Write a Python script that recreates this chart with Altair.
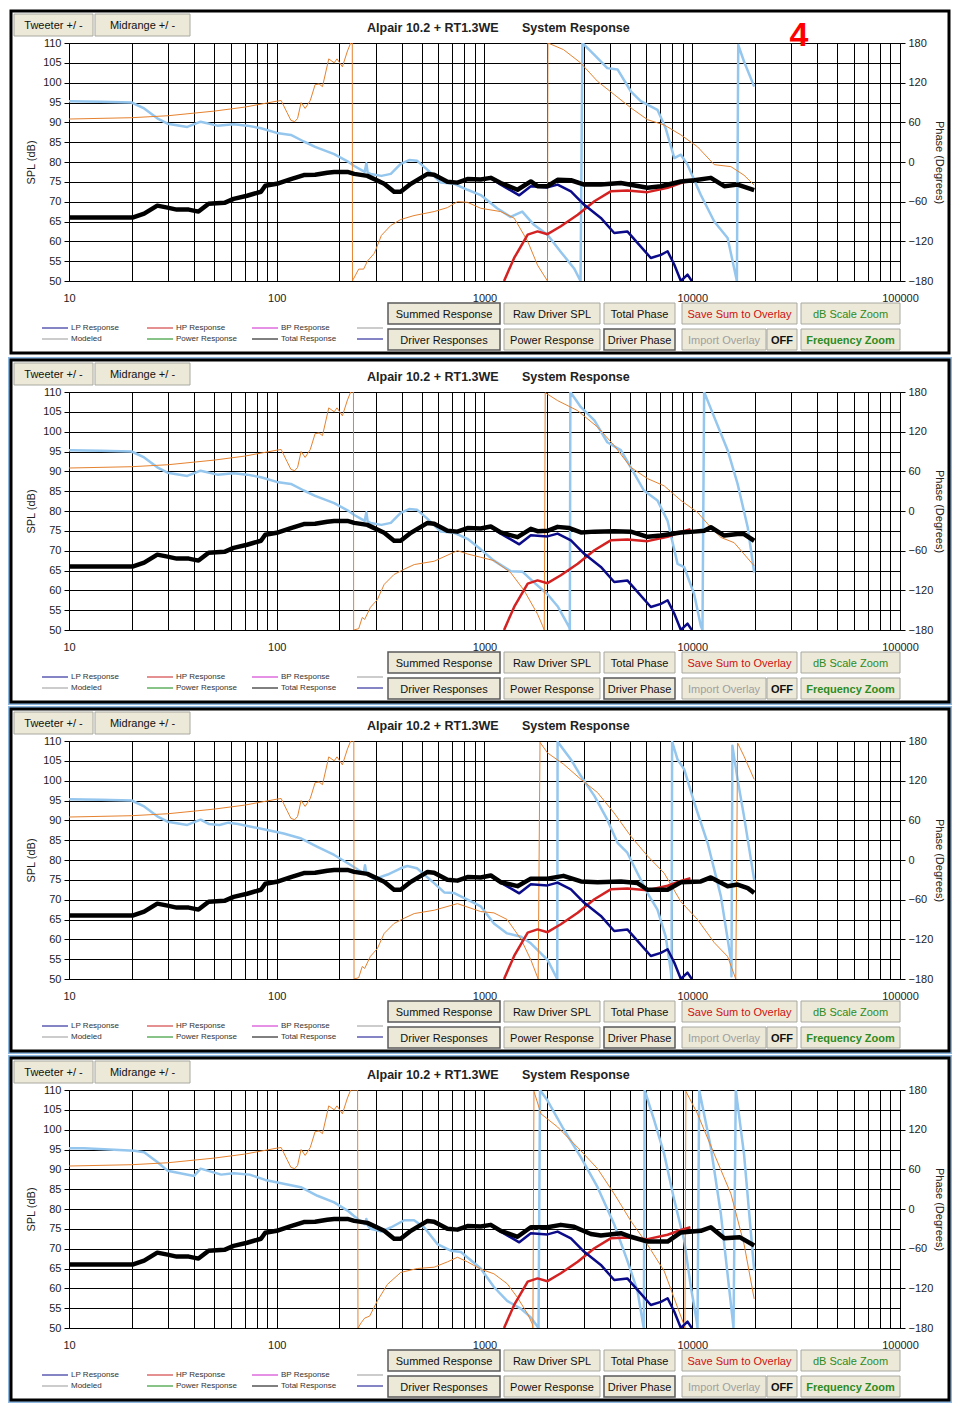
import altair as alt
import pandas as pd

# ---------------- data: (frequency in Hz, value) ----------------
# Total response (dB), shared low-frequency part
TOTAL_LOW = [(10, 66), (13.2, 66), (20.2, 66), (23, 67), (26.6, 69), (29.8, 68.5), (33, 68), (37.7, 68),
             (42, 67.5), (47, 69.5), (56, 69.7), (62, 70.7), (72, 71.5), (84, 72.5), (88, 74), (100, 74.5),
             (117, 75.7), (135, 76.7), (153, 76.8), (175, 77.3), (189, 77.5), (219, 77.5), (236, 77),
             (273, 76.5), (329, 74.5), (367, 72.5), (395, 72.5), (442, 74.5), (532, 77), (572, 76.8),
             (663, 75), (741, 74.8), (828, 75.7), (959, 75.6)]
TOTAL_HIGH_P1 = [(1072, 76), (1197, 74.7), (1442, 73), (1671, 75.1), (1800, 73.9), (2010, 73.9), (2248, 75.5),
                 (2606, 75.4), (3020, 74.3), (3632, 74.3), (4531, 74.7), (6092, 73.5), (7063, 73.9),
                 (8813, 75.1), (10218, 75.4), (12290, 76), (14260, 73.9), (16530, 74.3), (19870, 72.9)]
TOTAL_HIGH_P2 = [(1072, 76.1), (1197, 74.6), (1442, 73.4), (1671, 75.5), (1800, 74.9), (2010, 75), (2248, 76),
                 (2560, 75.7), (2912, 74.6), (3380, 74.8), (4210, 74.9), (5060, 74.8), (6092, 73.5),
                 (7063, 73.8), (8813, 74.6), (10218, 74.8), (11410, 75), (12290, 75.9), (14260, 73.8),
                 (16530, 74.2), (17750, 74.2), (19870, 72.5)]
TOTAL_HIGH_P3 = [(1072, 76.1), (1197, 74.4), (1442, 73.4), (1671, 75.3), (2010, 75.3), (2400, 76), (2912, 74.6),
                 (3500, 74.4), (4531, 74.6), (5450, 74.2), (6092, 72.5), (7610, 72.5), (8813, 74.4),
                 (11000, 74.6), (12290, 75.6), (14800, 73.4), (16530, 73.8), (18500, 72.9), (19870, 71.7)]
TOTAL_HIGH_P4 = [(1072, 76), (1197, 74.5), (1442, 73), (1671, 75.4), (2010, 75.4), (2330, 76), (2700, 75.5),
                 (3250, 73.7), (3632, 73.3), (4531, 73.9), (5060, 73), (6092, 71.8), (7610, 71.8),
                 (8813, 74.1), (11000, 74.5), (12290, 75.4), (14260, 72.6), (16900, 72.9), (19870, 70.8)]

# LP (woofer) and HP (tweeter) responses (dB)
LP_RESP = [(741, 74.8), (828, 75.7), (959, 75.6), (1072, 76), (1197, 74.3), (1470, 71.6), (1671, 73.9),
           (2010, 73.6), (2248, 74.3), (2606, 72.6), (3020, 69.2), (3632, 65.9), (4210, 62.1), (4870, 62.5),
           (5450, 59.6), (6320, 55.8), (7063, 56.6), (7610, 57.5), (8200, 54.1), (8813, 50), (9490, 51.6),
           (9950, 50)]
HP_RESP = [(1242, 50), (1389, 55.8), (1614, 61.7), (1800, 62.5), (2010, 61.8), (2330, 63.8), (2810, 66.7),
           (3380, 70.1), (4050, 72.6), (4870, 72.8), (6092, 72.4), (7610, 73.5), (8813, 74.7), (9800, 75.4)]

# Orange phase (degrees)
ORANGE_LOW = [(10, 65), (20, 67), (30, 70), (50, 77), (70, 83), (100, 92), (105, 93), (112, 75), (117, 63),
              (122, 61), (126, 66), (131, 90), (137, 81), (145, 93), (153, 117), (160, 118), (166, 114),
              (178, 156), (189, 150), (195, 156), (207, 144), (219, 168), (227, 180)]
ORANGE_P1 = [(231, 180), (231.5, -180), (233, -178), (248, -162), (262, -162), (273, -150), (295, -138),
             (319, -111), (354, -96), (395, -87), (458, -81), (572, -75), (663, -69), (741, -60), (828, -61),
             (959, -70), (1197, -75), (1390, -85), (1614, -120), (1800, -156), (2010, -180), (2020, 180),
             (2400, 170), (2900, 150), (3500, 122), (4210, 102), (5060, 82), (6092, 64), (7330, 56),
             (8813, 41), (10600, 23), (12760, -4), (15350, -7), (17750, -20), (19870, -35)]
ORANGE_P2 = [(234, 180), (234.5, -180), (248, -178), (258, -161), (265, -164), (282, -146), (305, -134),
             (329, -111), (367, -96), (411, -88), (459, -81), (572, -76), (741, -60), (828, -65), (959, -70),
             (1110, -75), (1335, -93), (1550, -120), (1800, -156), (1900, -173), (1940, -180), (1960, 179),
             (2248, 167), (2800, 152), (3500, 127), (4210, 99), (5060, 66), (6092, 49), (7330, 38),
             (8813, 16), (10600, -2), (12290, -25), (13740, -40), (15920, -48), (19870, -83)]
ORANGE_P3 = [(235, 180), (235.5, -180), (248, -178), (258, -161), (265, -164), (282, -146), (305, -134),
             (329, -111), (367, -96), (411, -88), (459, -81), (572, -76), (741, -66), (959, -78),
             (1110, -80), (1285, -90), (1500, -120), (1671, -151), (1813, -180), (1850, 178), (2010, 162),
             (2400, 145), (2912, 122), (3500, 102), (4210, 71), (5060, 36), (6092, 6), (7330, -20),
             (8813, -63), (10600, -90), (12760, -125), (14800, -146), (16200, -180), (16530, 177),
             (17750, 157), (19870, 122)]
ORANGE_P4 = [(245, 180), (246, -180), (255, -172), (265, -165), (280, -162), (305, -139), (341, -114),
             (395, -96), (475, -90), (572, -88), (663, -80), (741, -73), (828, -80), (959, -91), (1110, -98),
             (1285, -113), (1442, -134), (1614, -159), (1700, -174), (1710, -180), (1730, 178), (1870, 144),
             (2248, 124), (2912, 88), (3500, 61), (4210, 23), (5060, -18), (6092, -54), (7330, -94),
             (8500, -149), (9150, -176), (9220, -180), (9320, 178), (10600, 144), (12760, 83), (15350, 23),
             (17750, -53), (19870, -136)]

# Light-blue phase (degrees)
BLUE_LOW_A = [(10, 92), (14.2, 91), (20, 90), (23, 81), (26.6, 66), (29.8, 58), (37.1, 53), (43, 61),
              (51.8, 55), (62, 57), (72, 55), (84, 51), (100, 44), (117, 41), (135, 31), (153, 23), (189, 12),
              (219, 1), (236, -6), (265, -15), (270, -2), (274, -16), (283, -18), (319, -21), (354, -18),
              (395, -3), (434, 3), (473, 2), (532, -12), (616, -31), (715, -33), (828, -42)]
BLUE_HIGH_P1 = [(959, -50), (1150, -70), (1335, -83), (1520, -75), (1730, -95), (2010, -110), (2330, -136),
                (2700, -161), (2900, -180), (2960, 180), (3380, 162), (3900, 142), (4370, 140), (5060, 107),
                (5650, 92), (6800, 79), (7450, 51), (8200, 6), (8813, 11), (9490, -4), (11000, -50),
                (12760, -90), (14800, -115), (16400, -180), (16650, 177), (17750, 152), (19870, 114)]
BLUE_HIGH_P2 = [(959, -58), (1110, -75), (1335, -91), (1527, -92), (1730, -108), (2010, -126), (2248, -144),
                (2560, -176), (2575, -180), (2590, 180), (2912, 157), (3380, 137), (3900, 104), (4531, 92),
                (5060, 66), (5850, 31), (6800, 16), (7610, -15), (8500, -80), (9150, -85), (10218, -126),
                (11000, -174), (11200, -180), (11410, 180), (12760, 142), (14800, 92), (16530, 41),
                (18500, -25), (19870, -93)]
BLUE_LOW_B = [(10, 92), (14.2, 91), (20, 90), (23, 81), (26.6, 66), (29.8, 58), (37.1, 53), (43, 61),
              (47, 54.5), (53, 53), (58.5, 56.5), (65, 54.5), (90, 45.4), (108, 40), (130, 33), (157, 20),
              (189, 7.6), (227, -7.5), (262, -20), (266, -8), (270, -20), (295, -29), (342, -22),
              (395, -12.5), (425, -9), (473, -12.5), (572, -35), (640, -49), (715, -50), (828, -60)]
BLUE_HIGH_P3 = [(959, -70), (1110, -96), (1285, -111), (1500, -116), (1671, -126), (2010, -151), (2240, -180),
                (2248, 179), (2606, 152), (2912, 127), (3380, 97), (3900, 61), (4370, 26), (4870, 11),
                (5450, -20), (6092, -50), (6800, -75), (7450, -116), (7880, -167), (7950, -180), (8000, 179),
                (8500, 152), (9150, 137), (10218, 87), (11850, 26), (13740, -55), (15350, -151),
                (15450, -176), (15600, 173), (16530, 122), (17750, 66), (19870, -30)]
BLUE_LOW_C = [(10, 92), (11.8, 92), (20.6, 88), (23, 86), (26.6, 71), (29.8, 58), (40, 50), (43, 61), (54, 52),
              (62, 54), (74, 52), (88, 44), (105, 39), (130.6, 33), (157, 20), (189, 10), (219, -2.4),
              (245, -15), (266, -23), (270, -15), (274, -25), (283, -30), (319, -34), (354, -28), (411, -17),
              (458, -17), (513, -28), (593, -53), (688, -63), (770, -65)]
BLUE_HIGH_P4 = [(959, -90), (1110, -118), (1285, -139), (1500, -151), (1671, -164), (1820, -180), (1850, 180),
                (2010, 164), (2400, 121), (2912, 78), (3500, 33), (4210, -23), (4870, -78), (5450, -124),
                (5810, -176), (5850, -180), (5900, 180), (6560, 134), (7330, 83), (8200, 13), (9150, -48),
                (9850, -118), (10500, -169), (10600, -180), (10800, 180), (12290, 93), (13740, -8),
                (15600, -164), (15800, -180), (16200, 180), (17750, 83), (19870, -93)]

X_GRID = [m * 10 ** e for e in range(1, 5) for m in range(1, 10)] + [100000]
X_LABELS = [10, 100, 1000, 10000, 100000]
SPL_TICKS = list(range(50, 111, 5))
PHASE_TICKS = list(range(-180, 181, 60))
TITLE_A = "Alpair 10.2 + RT1.3WE"
TITLE_B = "System Response"

# ---------------- styling ----------------
W, H = 831, 238
FONT = "Liberation Sans"
C_TOTAL, C_LP, C_HP, C_OR, C_LB = "#000000", "#0B0B8A", "#D42222", "#E5822F", "#94C6EE"

XSCALE = alt.Scale(type="log", domain=[10, 100000], nice=False)
XAXIS = alt.Axis(values=X_GRID, grid=True, gridColor="#000", gridOpacity=1, gridWidth=1, ticks=False,
                 domain=False, labelExpr="indexof(%s, datum.value) >= 0 ? format(datum.value, 'd') : ''" % X_LABELS,
                 labelFont=FONT, labelFontSize=11, labelColor="#222", labelPadding=11, labelOverlap=False,
                 labelFlush=False, title=None)
SPL_SCALE = alt.Scale(domain=[50, 110], nice=False, zero=False)
SPL_AXIS = alt.Axis(orient="left", values=SPL_TICKS, grid=True, gridColor="#000", gridOpacity=1, gridWidth=1,
                    tickSize=5, tickColor="#000", domainColor="#000", labelFont=FONT, labelFontSize=11,
                    labelColor="#222", labelPadding=3, title="SPL (dB)", titleFont=FONT, titleFontSize=11,
                    titleFontWeight="normal", titleColor="#222", titlePadding=6)
PH_SCALE = alt.Scale(domain=[-180, 180], nice=False, zero=False)
PH_AXIS = alt.Axis(orient="right", values=PHASE_TICKS, grid=False, tickSize=5, tickColor="#000",
                   domainColor="#000", labelFont=FONT, labelFontSize=11, labelColor="#222", labelPadding=3,
                   title="Phase (Degrees)", titleFont=FONT, titleFontSize=11, titleFontWeight="normal",
                   titleColor="#222", titlePadding=1)

ONE = pd.DataFrame({"k": [0]})


def line(pairs, color, width, yscale, yaxis):
    df = pd.DataFrame(pairs, columns=["f", "v"])
    df["i"] = range(len(df))
    return alt.Chart(df).mark_line(color=color, strokeWidth=width, clip=True, strokeJoin="round").encode(
        x=alt.X("f:Q", scale=XSCALE, axis=XAXIS),
        y=alt.Y("v:Q", scale=yscale, axis=yaxis),
        order="i:Q")


def rect(x1, x2, y1, y2, **kw):
    return alt.Chart(ONE).mark_rect(**kw).encode(
        x=alt.value(x1), x2=alt.value(x2), y=alt.value(y1), y2=alt.value(y2))


def text(x, y, s, size=11, color="#111", weight="normal", align="center", font=FONT):
    return alt.Chart(ONE).mark_text(text=s, font=font, fontSize=size, color=color, fontWeight=weight,
                                    align=align, baseline="middle").encode(x=alt.value(x), y=alt.value(y))


def hrule(x1, x2, y, color, width=1):
    return alt.Chart(ONE).mark_rule(color=color, strokeWidth=width).encode(
        x=alt.value(x1), x2=alt.value(x2), y=alt.value(y))


def button(x1, x2, y1, y2, label, color="#111", weight="normal", pressed=False, size=11):
    face = rect(x1, x2, y1, y2, fill="#ECE9D8", stroke="#5a5a5a" if pressed else "#a8a8a0",
                strokeWidth=1.5 if pressed else 1)
    return [face, text((x1 + x2) / 2, (y1 + y2) / 2 + 1, label, size=size, color=color, weight=weight)]


def decorations(first):
    out = [rect(-60, 882, -34, 312, fillOpacity=0, stroke="#FFFFFF" if first else "#8FB8E0", strokeWidth=2),
           rect(-58, 880, -32, 310, fillOpacity=0, stroke="#000", strokeWidth=3)]
    out += button(-55, 24, -29, -7, "Tweeter +/ -", size=11)
    out += button(26, 121, -29, -7, "Midrange  +/ -", size=11)
    out.append(text(298, -15, TITLE_A, size=12.5, color="#222", weight="bold", align="left"))
    out.append(text(453, -15, TITLE_B, size=12.5, color="#222", weight="bold", align="left"))
    if first:
        out.append(text(730, -7, "4", size=34, color="#FF0000", weight="bold"))
    # legend
    leg = [(-27, -1, 285, C_LP, "LP Response"), (78, 104, 285, "#CC2222", "HP Response"),
           (183, 209, 285, "#CC22CC", "BP Response"), (288, 314, 285, "#999999", ""),
           (-27, -1, 296, "#999999", "Modeled"), (78, 104, 296, "#118811", "Power Response"),
           (183, 209, 296, "#000000", "Total Response"), (288, 314, 296, C_LP, "")]
    for x1, x2, y, c, lab in leg:
        out.append(hrule(x1, x2, y, c, 1))
        if lab:
            out.append(text(x2 + 3, y, lab, size=8, color="#333", align="left"))
    # buttons
    r1, r2 = (260, 281), (286, 307)
    out += button(319, 431, *r1, "Summed Response", pressed=True)
    out += button(319, 431, *r2, "Driver Responses", pressed=True)
    out += button(435, 531, *r1, "Raw Driver SPL")
    out += button(435, 531, *r2, "Power Response")
    out += button(535, 606, *r1, "Total Phase")
    out += button(535, 606, *r2, "Driver Phase", pressed=True)
    out += button(613, 728, *r1, "Save Sum to Overlay", color="#CC1111")
    out += button(613, 697, *r2, "Import Overlay", color="#A0A0A0")
    out += button(698, 728, *r2, "OFF", weight="bold")
    out += button(732, 831, *r1, "dB Scale Zoom", color="#2E8B22")
    out += button(732, 831, *r2, "Frequency Zoom", color="#2E8B22", weight="bold")
    return out


def panel(total_high, orange, blue, first=False):
    phase = alt.layer(
        line(blue, C_LB, 2.5, PH_SCALE, PH_AXIS),
        line(ORANGE_LOW + orange, C_OR, 1, PH_SCALE, PH_AXIS),
    )
    spl = alt.layer(
        line(HP_RESP, C_HP, 2.5, SPL_SCALE, SPL_AXIS),
        line(LP_RESP, C_LP, 2.5, SPL_SCALE, SPL_AXIS),
        line(TOTAL_LOW + total_high, C_TOTAL, 4.5, SPL_SCALE, SPL_AXIS),
    )
    return alt.layer(phase, spl, *decorations(first)).resolve_scale(y="independent").properties(width=W, height=H)


chart = alt.vconcat(
    panel(TOTAL_HIGH_P1, ORANGE_P1, BLUE_LOW_A + BLUE_HIGH_P1, first=True),
    panel(TOTAL_HIGH_P2, ORANGE_P2, BLUE_LOW_A + BLUE_HIGH_P2),
    panel(TOTAL_HIGH_P3, ORANGE_P3, BLUE_LOW_B + BLUE_HIGH_P3),
    panel(TOTAL_HIGH_P4, ORANGE_P4, BLUE_LOW_C + BLUE_HIGH_P4),
    spacing=1,
).properties(padding=0, background="white").configure_view(strokeWidth=0)

chart.save("out.html", embed_options={"renderer": "svg", "actions": False})
